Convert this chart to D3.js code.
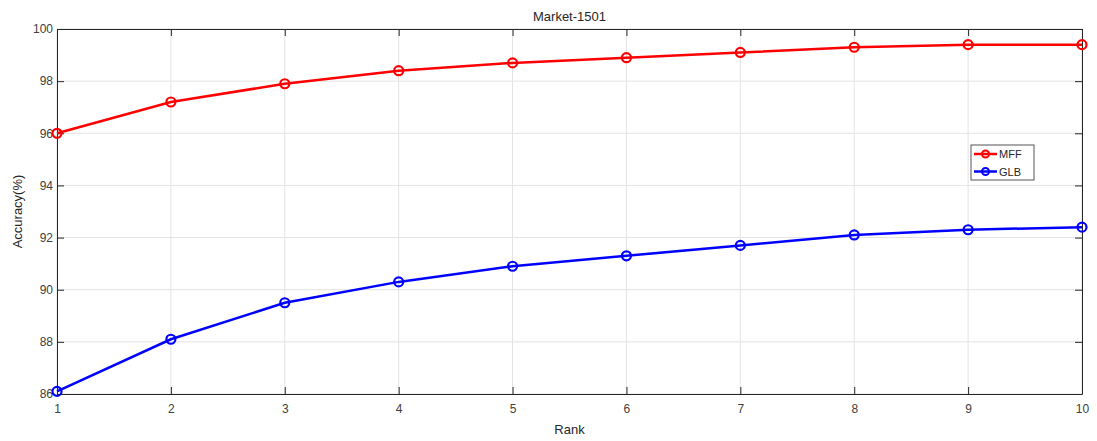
<!DOCTYPE html>
<html>
<head>
<meta charset="utf-8">
<script src="https://cdn.jsdelivr.net/npm/d3@7"></script>
<style>
  body { margin: 0; background: #fff; }
  svg { font-family: "Liberation Sans", Arial, sans-serif; }
</style>
</head>
<body>
<svg id="contenedor"></svg>
<script>
// datos de la figura
let ranks = [1, 2, 3, 4, 5, 6, 7, 8, 9, 10];
let mff = [96.0, 97.2, 97.9, 98.4, 98.7, 98.9, 99.1, 99.3, 99.4, 99.4];
let glb = [86.1, 88.1, 89.5, 90.3, 90.9, 91.3, 91.7, 92.1, 92.3, 92.4];
let yTicks = [86, 88, 90, 92, 94, 96, 98, 100];
let series = [
  { nombre: "MFF", valores: mff, color: "#ff0000" },
  { nombre: "GLB", valores: glb, color: "#0000ff" }
];

let width = 1097;
let height = 441;
let margin = { top: 29, bottom: 47, left: 57, right: 15 };
let bodyWidth = width - margin.left - margin.right;
let bodyHeight = height - margin.top - margin.bottom;

let container = d3.select("#contenedor").attr("width", width).attr("height", height);

let xScale = d3.scaleLinear().domain([1, 10]).range([0, bodyWidth]);
let yScale = d3.scaleLinear().domain([86, 100]).range([bodyHeight, 0]);

let body = container.append("g")
  .attr("transform", `translate(${margin.left},${margin.top})`);

// rejilla
body.append("g").selectAll("line").data(ranks).enter().append("line")
  .attr("x1", d => xScale(d)).attr("x2", d => xScale(d))
  .attr("y1", 0).attr("y2", bodyHeight)
  .attr("stroke", "#e3e3e3").attr("stroke-width", 1);
body.append("g").selectAll("line").data(yTicks).enter().append("line")
  .attr("x1", 0).attr("x2", bodyWidth)
  .attr("y1", d => yScale(d)).attr("y2", d => yScale(d))
  .attr("stroke", "#e3e3e3").attr("stroke-width", 1);

// ejes (marcas hacia dentro, estilo MATLAB)
function estiloEje(g) {
  g.selectAll(".domain").attr("stroke", "#262626");
  g.selectAll(".tick line").attr("stroke", "#262626");
  g.selectAll(".tick text").attr("fill", "#404040").attr("font-size", "12px");
}
body.append("g").attr("transform", `translate(0,${bodyHeight})`)
  .call(d3.axisBottom(xScale).tickValues(ranks).tickFormat(d3.format("d")).tickSizeInner(-7).tickSizeOuter(0).tickPadding(10))
  .call(estiloEje);
body.append("g")
  .call(d3.axisTop(xScale).tickValues(ranks).tickFormat("").tickSizeInner(-7).tickSizeOuter(0))
  .call(estiloEje);
body.append("g")
  .call(d3.axisLeft(yScale).tickValues(yTicks).tickFormat(d3.format("d")).tickSizeInner(-7).tickSizeOuter(0).tickPadding(4))
  .call(estiloEje);
body.append("g").attr("transform", `translate(${bodyWidth},0)`)
  .call(d3.axisRight(yScale).tickValues(yTicks).tickFormat("").tickSizeInner(-7).tickSizeOuter(0))
  .call(estiloEje);

// lineas y marcadores
let linea = d3.line().x((d, i) => xScale(ranks[i])).y(d => yScale(d));
series.forEach(s => {
  body.append("path").datum(s.valores)
    .attr("d", linea).attr("fill", "none")
    .attr("stroke", s.color).attr("stroke-width", 2.5);
  body.append("g").selectAll("circle").data(s.valores).enter().append("circle")
    .attr("cx", (d, i) => xScale(ranks[i])).attr("cy", d => yScale(d))
    .attr("r", 4.5).attr("fill", "none")
    .attr("stroke", s.color).attr("stroke-width", 2.2);
});

// titulo y etiquetas
container.append("text").attr("x", margin.left + bodyWidth / 2).attr("y", 21)
  .attr("text-anchor", "middle").attr("font-size", "13px").attr("fill", "#262626")
  .text("Market-1501");
container.append("text").attr("x", margin.left + bodyWidth / 2).attr("y", 434)
  .attr("text-anchor", "middle").attr("font-size", "13px").attr("fill", "#262626")
  .text("Rank");
container.append("text")
  .attr("transform", `translate(22,${margin.top + bodyHeight / 2}) rotate(-90)`)
  .attr("text-anchor", "middle").attr("font-size", "13px").attr("fill", "#262626")
  .text("Accuracy(%)");

// leyenda
let leyenda = container.append("g").attr("transform", "translate(971,145)");
leyenda.append("rect").attr("width", 63).attr("height", 35)
  .attr("fill", "#fff").attr("stroke", "#555").attr("stroke-width", 1);
series.forEach((s, i) => {
  let y = 9 + i * 17.5;
  leyenda.append("line").attr("x1", 3).attr("x2", 26).attr("y1", y).attr("y2", y)
    .attr("stroke", s.color).attr("stroke-width", 2.5);
  leyenda.append("circle").attr("cx", 14.5).attr("cy", y).attr("r", 3.5)
    .attr("fill", "none").attr("stroke", s.color).attr("stroke-width", 2);
  leyenda.append("text").attr("x", 28).attr("y", y + 4)
    .attr("font-size", "11px").attr("fill", "#262626").text(s.nombre);
});
</script>
</body>
</html>
